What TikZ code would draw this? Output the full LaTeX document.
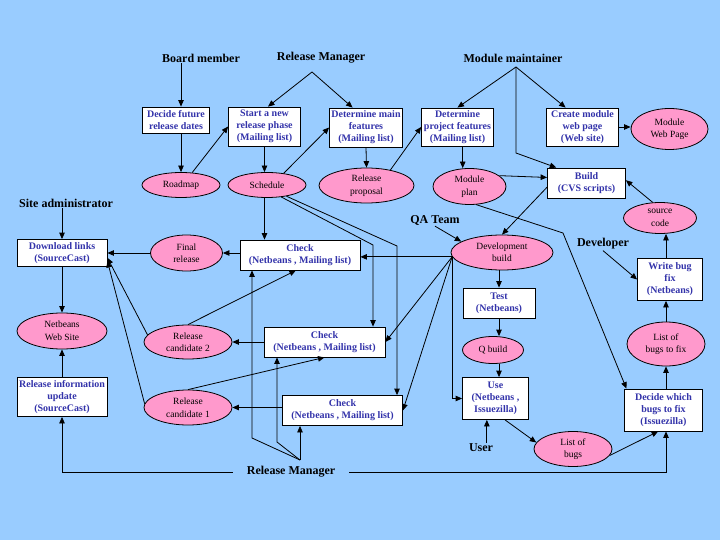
\documentclass[tikz,border=0pt]{standalone}
\usepackage{fontspec}
\setmainfont{Liberation Serif}
\usetikzlibrary{arrows.meta,shapes.geometric}
\definecolor{skyback}{RGB}{153,204,255}
\definecolor{ovalpink}{RGB}{255,153,204}
\definecolor{taskblue}{RGB}{51,51,170}

\begin{document}
\begin{tikzpicture}[x=1pt,y=1pt,yscale=-1,xscale=1,
  task/.style={draw=black,fill=white,line width=0.8pt,text=taskblue,font=\bfseries\fontsize{10}{12}\selectfont,align=center,inner sep=1pt},
  item/.style={ellipse,draw=black,fill=ovalpink,line width=0.8pt,font=\fontsize{9.5}{12.5}\selectfont,align=center,inner sep=0pt},
  role/.style={font=\bfseries\fontsize{12}{14}\selectfont,inner sep=1pt},
  flow/.style={line width=0.8pt,-{Triangle[length=6.5pt,width=5.5pt]}}]
%set diagram size 720 x 540
\fill[skyback] (0,0) rectangle (720,540);
\useasboundingbox (0,0) rectangle (720,540);

% Text Node
\node[role] (bm) at (201,58) {Board member};
\node[role] (rmt) at (321,58) {Release Manager};
\node[role] (mm) at (513,58) {Module maintainer};
\node[role] (sa) at (66,203) {Site administrator};
\node[role] (qa) at (435,220) {QA Team};
\node[role] (dev) at (603,244) {Developer};
\node[role] (usr) at (481,448) {User};
\node[role,inner xsep=14pt] (rmb) at (291,472) {Release Manager};

%Shape: Rectangle
\node[task,minimum width=67pt,minimum height=26pt] (dfr) at (176,120) {Decide future\\release dates};
\node[task,minimum width=72pt,minimum height=39pt] (snr) at (264.5,126.5) {Start a new\\release phase\\(Mailing list)};
\node[task,minimum width=73pt,minimum height=39pt] (dmf) at (366,127.5) {Determine main\\features\\(Mailing list)};
\node[task,minimum width=72pt,minimum height=38pt] (dpf) at (457.5,127) {Determine\\project features\\(Mailing list)};
\node[task,minimum width=72pt,minimum height=38pt] (cmw) at (582.5,127) {Create module\\web page\\(Web site)};
\node[task,minimum width=78pt,minimum height=30pt] (bld) at (586.5,183) {Build\\(CVS scripts)};
\node[task,minimum width=90pt,minimum height=27pt] (dl) at (62,253) {Download links\\(SourceCast)};
\node[task,minimum width=120pt,minimum height=30pt] (chk1) at (300,255) {Check\\(Netbeans , Mailing list)};
\node[task,minimum width=121pt,minimum height=30pt] (chk2) at (324.5,342) {Check\\(Netbeans , Mailing list)};
\node[task,minimum width=120pt,minimum height=30pt] (chk3) at (342.5,410.5) {Check\\(Netbeans , Mailing list)};
\node[task,minimum width=90pt,minimum height=39pt] (riu) at (62,397) {Release information\\update\\(SourceCast)};
\node[task,minimum width=72pt,minimum height=30pt] (tst) at (499,303) {Test\\(Netbeans)};
\node[task,minimum width=66pt,minimum height=42pt] (use) at (495.5,398.5) {Use\\(Netbeans ,\\Issuezilla)};
\node[task,minimum width=65pt,minimum height=42pt] (wbf) at (670,279.5) {Write bug\\fix\\(Netbeans)};
\node[task,minimum width=78pt,minimum height=42pt] (dwb) at (663.5,410) {Decide which\\bugs to fix\\(Issuezilla)};

%Shape: Ellipse
\node[item,minimum width=78pt,minimum height=25pt] (rdm) at (181,185) {Roadmap};
\node[item,minimum width=78pt,minimum height=25pt] (sch) at (267,185) {Schedule};
\node[item,minimum width=95pt,minimum height=35pt] (rp) at (366.5,185.5) {Release\\proposal};
\node[item,minimum width=73pt,minimum height=36pt] (mp) at (469.5,186.5) {Module\\plan};
\node[item,minimum width=77pt,minimum height=41pt] (mwp) at (669.5,129) {Module\\Web Page};
\node[item,minimum width=73pt,minimum height=31pt] (sc) at (660,218) {source\\code};
\node[item,minimum width=102pt,minimum height=35pt] (db) at (502,252.5) {Development\\build};
\node[item,minimum width=72pt,minimum height=36pt] (fr) at (186.5,253) {Final\\release};
\node[item,minimum width=90pt,minimum height=36pt] (nws) at (62,331) {Netbeans\\Web Site};
\node[item,minimum width=88pt,minimum height=34pt] (rc2) at (188,342) {Release\\candidate 2};
\node[item,minimum width=88pt,minimum height=35pt] (rc1) at (188,407.5) {Release\\candidate 1};
\node[item,minimum width=61pt,minimum height=27pt] (qb) at (493,350) {Q build};
\node[item,minimum width=78pt,minimum height=44pt] (lbf) at (666,344) {List of\\bugs to fix};
\node[item,minimum width=78pt,minimum height=35pt] (lb) at (573,449) {List of\\bugs};

% bend points
\coordinate (rmtop) at (312,72);
\coordinate (mmtop) at (516,67);
\coordinate (mmbend) at (516,153);
\coordinate (planbend) at (563,233);
\coordinate (schbendA) at (373,245);
\coordinate (schbendB) at (397,246);
\coordinate (rmtip) at (300,460);
\coordinate (rmbendA) at (252,438);
\coordinate (rmbendB) at (277,442);

%Straight Lines
\draw[flow] (bm.south -| rdm) -- (dfr.north -| rdm);
\draw[flow] (dfr.south -| rdm) -- (rdm.north);
\draw[flow] (rdm.48) -- (snr.west);
\draw[flow] (rmtop) -- (snr.80);
\draw[flow] (rmtop) -- (dmf.124);
\draw[flow] (snr.south) -- (snr.south |- sch.north);
\draw[flow] (sch.35) -- (dmf.west);
\draw[flow] (dmf.south) -- (rp.north);
\draw[flow] (rp.33) -- (dpf.west);
\draw[flow] (mmtop) -- (dpf.north);
\draw[flow] (mmtop) -- (cmw.131);
\draw[flow] (mmtop) -- (mmbend) -- (bld.153);
\draw[flow] (dpf.285) -- (dpf.285 |- mp.north);
\draw[flow] (cmw.east) -- (cmw.east -| mwp.west);
\draw[flow] (mp.20) -- (bld.172);
\draw[flow] (sc.115) -- (bld.4);
\draw[flow] (wbf.north -| lbf) -- (sc.south -| lbf);
\draw[flow] (lbf.north) -- (lbf.north |- wbf.south);
\draw[flow] (dwb.north -| lbf) -- (lbf.south);
\draw[flow] (dev.south) -- (wbf.west);
\draw[flow] (bld.186) -- (db.north);
\draw[flow] (mp.-70) -- (planbend) -- (dwb.150);
\draw[flow] (qa.south) -- (db.165);
\draw[flow] (db.south -| tst) -- (tst.north);
\draw[flow] (tst.south) -- (tst.south |- qb.north);
\draw[flow] (qb.south -| tst) -- (use.north -| tst);
%QA checks
\draw[flow] (db.185) -- (db.185 -| chk1.east);
\draw[flow] (db.185) -- (chk2.east);
\draw[flow] (db.185) -- (chk3.east);
\draw[flow] (db.185) |- (use.west);
\draw[flow] (sch.south -| snr) -- (chk1.north -| snr);
\draw[flow] (sch.-40) -- (schbendA) -- (schbendA |- chk2.north);
\draw[flow] (sch.-30) -- (schbendB) -- (schbendB |- chk3.north);
%releases
\draw[flow] (fr.east -| chk1.west) -- (fr.east);
\draw[flow] (fr.west) -- (fr.west -| dl.east);
\draw[flow] (chk2.west) -- (chk2.west -| rc2.east);
\draw[flow] (rc1.east -| chk3.west) -- (rc1.east);
\draw[flow] (rc2.north) -- (chk1.255);
\draw[flow] (rc1.north) -- (chk2.south);
\draw[flow] (rc2.170) -- (dl.-6);
\draw[flow] (rc1.175) -- (dl.-10);
\draw[flow] (rmtip) -- (rmtip |- chk3.south);
\draw[flow] (rmtip) -- (rmbendB) -- (rmbendB |- chk2.south);
\draw[flow] (rmtip) -- (rmbendA) -- (rmbendA |- chk1.south);
\draw[flow] (rmb.west) -| (riu.south);
\draw[flow] (rmb.east) -| (dwb.south -| lbf.south);
\draw[flow] (use.-66) -- (lb.170);
\draw[flow] (usr.north -| use.248) -- (use.248);
\draw[flow] (lb.-10) -- (dwb.-104);
\draw[flow] (sa.south -| dl) -- (dl.north);
\draw[flow] (dl.south) -- (nws.north);
\draw[flow] (riu.north) -- (nws.south);
\end{tikzpicture}
\end{document}
